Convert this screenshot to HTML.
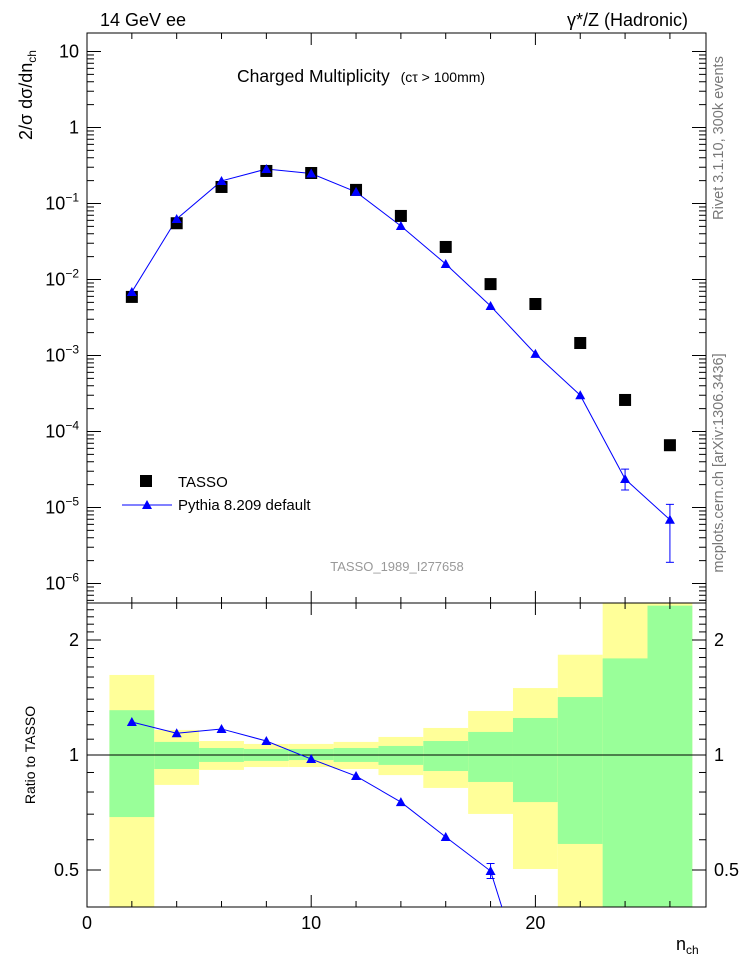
<!DOCTYPE html>
<html><head><meta charset="utf-8"><style>
html,body{margin:0;background:#fff;overflow:hidden;width:746px;height:972px;}
svg{display:block;font-family:"Liberation Sans",sans-serif;}
</style></head><body>
<svg id="chart" width="746" height="972" xmlns="http://www.w3.org/2000/svg">
<g id="bands"></g>
<g id="grid"></g>
<g id="marks"></g>
<text x="100" y="26" font-size="18">14 GeV ee</text>
<text x="688" y="26" font-size="18" text-anchor="end">γ*/Z (Hadronic)</text>
<text x="237" y="82" font-size="17.5">Charged Multiplicity <tspan font-size="14" dx="6">(cτ &gt; 100mm)</tspan></text>
<text transform="translate(723,138) rotate(-90)" font-size="14.5" fill="#777" text-anchor="middle">Rivet 3.1.10,  300k events</text>
<text transform="translate(723,463) rotate(-90)" font-size="14.5" fill="#777" text-anchor="middle">mcplots.cern.ch [arXiv:1306.3436]</text>
<text x="397" y="571" font-size="13" fill="#999" text-anchor="middle">TASSO_1989_I277658</text>
<text transform="translate(32,95) rotate(-90)" font-size="18" text-anchor="middle">2/σ dσ/dn<tspan font-size="12" dy="4">ch</tspan></text>
<text transform="translate(35,755) rotate(-90)" font-size="14" text-anchor="middle">Ratio to TASSO</text>
<text x="676" y="950" font-size="18">n<tspan font-size="12" dy="4">ch</tspan></text>
<g>
<rect x="140" y="475" width="12" height="12" fill="#000"/>
<text x="178" y="487" font-size="15">TASSO</text>
<line x1="122" y1="505" x2="172" y2="505" stroke="#00f" stroke-width="1"/>
<polygon points="147,500 142,509 152,509" fill="#00f"/>
<text x="178" y="510" font-size="15">Pythia 8.209 default</text>
</g>
</svg>
<script>
const nch = [2,4,6,8,10,12,14,16,18,20,22,24,26];
const tasso = [0.0059,0.055,0.165,0.268,0.252,0.151,0.0686,0.0268,0.0087,0.00476,0.00146,0.00026,0.000066];
const pythia = [0.00686,0.0625,0.198,0.284,0.248,0.142,0.0506,0.016,0.00448,0.00105,0.0003,0.0000237,0.0000069];
const pythiaHi = [0.007,0.063,0.2,0.286,0.25,0.143,0.051,0.0162,0.0046,0.00108,0.00031,0.000032,0.000011];
const pythiaLo = [0.0067,0.062,0.196,0.282,0.246,0.141,0.0502,0.0158,0.0044,0.00102,0.00029,0.000017,0.0000019];
const yellowHi = [1.62,1.163,1.088,1.069,1.069,1.082,1.115,1.177,1.304,1.497,1.83,3,3];
const greenHi = [1.31,1.082,1.043,1.037,1.037,1.043,1.056,1.088,1.149,1.25,1.418,1.79,2.46];
const greenLo = [0.688,0.919,0.959,0.965,0.97,0.959,0.942,0.908,0.85,0.753,0.585,0.3,0.3];
const yellowLo = [0.3,0.835,0.914,0.93,0.93,0.919,0.886,0.82,0.701,0.503,0.3,0.3,0.3];
const ratioMC = [1.22,1.14,1.17,1.088,0.976,0.881,0.753,0.61,0.497,0.21,0.2,0.09,0.1];
const ratioHi = [1.23,1.15,1.18,1.095,0.982,0.887,0.76,0.62,0.52,0.22,0.21,0.12,0.16];
const ratioLo = [1.21,1.13,1.16,1.081,0.97,0.875,0.746,0.6,0.475,0.2,0.19,0.06,0.03];
const xTicks = [0,10,20];
const yTicks = [-6,-5,-4,-3,-2,-1,0,1];
const rTicks = [0.5,1,2];

const NS="http://www.w3.org/2000/svg";
const L=87,R=706,T=33,B=603,RT=603,RB=907;
const X=v=>L+v*22.42;
const Y=v=>51.5-(Math.log10(v)-1)*76;
const RY=v=>755-Math.log2(v)*115;
function mk(p,tag,a){const e=document.createElementNS(NS,tag);for(const k in a)e.setAttribute(k,a[k]);p.appendChild(e);return e;}
const bands=document.getElementById('bands'),grid=document.getElementById('grid'),marks=document.getElementById('marks');
const clampR=v=>Math.min(RB,Math.max(RT,RY(v)));
nch.forEach((n,i)=>{
  let y1=clampR(yellowHi[i]),y2=clampR(yellowLo[i]);
  const yb=mk(bands,'rect',{x:X(n-1),y:y1,width:X(n+1)-X(n-1),height:y2-y1,fill:'#ffff99'});
  
  
  let g1=clampR(greenHi[i]),g2=clampR(greenLo[i]);
  const gb=mk(bands,'rect',{x:X(n-1),y:g1,width:X(n+1)-X(n-1),height:g2-g1,fill:'#99ff99'});
  
  
});
mk(grid,'rect',{x:L,y:T,width:R-L,height:B-T,fill:'none',stroke:'#000','stroke-width':1});
mk(grid,'rect',{x:L,y:RT,width:R-L,height:RB-RT,fill:'none',stroke:'#000','stroke-width':1});
mk(grid,'line',{x1:L,x2:R,y1:RY(1),y2:RY(1),stroke:'#000','stroke-width':1});
for(let v=0;v<=27;v+=2){
  const isMaj=v%10===0, len=isMaj?12:6;
  [[T,1],[B,-1],[RT,1],[RB,-1]].forEach(([y,d])=>mk(grid,'line',{x1:X(v),x2:X(v),y1:y,y2:y+d*len,stroke:'#000'}));
}
xTicks.forEach(v=>{const t=mk(grid,'text',{x:X(v),y:929,'font-size':18,'text-anchor':'middle'});t.textContent=v;

});
for(let d=-7;d<=1;d++){for(let m=1;m<10;m++){const v=m*Math.pow(10,d);const y=Y(v);if(y<T||y>B)continue;
 const len=m===1?14:7;
 mk(grid,'line',{x1:L,x2:L+len,y1:y,y2:y,stroke:'#000'});mk(grid,'line',{x1:R,x2:R-len,y1:y,y2:y,stroke:'#000'});}}
yTicks.forEach(d=>{const y=Y(Math.pow(10,d));const t=mk(grid,'text',{x:79,y:y+6,'font-size':18,'text-anchor':'end'});
 if(d===0)t.textContent='1';else if(d===1)t.textContent='10';else{t.textContent='10';const s=mk(t,'tspan',{dy:-8,'font-size':12});s.textContent=String(d).replace('-','−');}
 
 });
for(let v=0.4;v<=2.5;v+=0.1){const y=RY(v);if(y<RT||y>RB)continue;const maj=Math.abs(v-0.5)<1e-6||Math.abs(v-1)<1e-6||Math.abs(v-2)<1e-6;const len=maj?14:7;
 mk(grid,'line',{x1:L,x2:L+len,y1:y,y2:y,stroke:'#000'});mk(grid,'line',{x1:R,x2:R-len,y1:y,y2:y,stroke:'#000'});}
rTicks.forEach(v=>{[[79,'end'],[714,'start']].forEach(([x,a])=>{const t=mk(grid,'text',{x:x,y:RY(v)+6,'font-size':18,'text-anchor':a});t.textContent=v;
 
 });});
mk(marks,'polyline',{points:nch.map((n,i)=>X(n)+','+Y(pythia[i])).join(' '),fill:'none',stroke:'#00f','stroke-width':1});
nch.forEach((n,i)=>{
  const s=mk(marks,'rect',{x:X(n)-6,y:Y(tasso[i])-6,width:12,height:12,fill:'#000'});
  
  
  mk(marks,'line',{x1:X(n),x2:X(n),y1:Y(pythiaHi[i]),y2:Y(pythiaLo[i]),stroke:'#00f'});
  if(Y(pythiaLo[i])-Y(pythiaHi[i])>8){[pythiaHi[i],pythiaLo[i]].forEach(v=>mk(marks,'line',{x1:X(n)-4,x2:X(n)+4,y1:Y(v),y2:Y(v),stroke:'#00f'}));}
  const x=X(n),y=Y(pythia[i]);
  const p=mk(marks,'polygon',{points:`${x},${y-5} ${x-5},${y+4} ${x+5},${y+4}`,fill:'#00f'});
  
  
});
const clip=mk(document.getElementById('chart'),'clipPath',{id:'rc'});mk(clip,'rect',{x:L,y:RT,width:R-L,height:RB-RT});
const rg=mk(marks,'g',{'clip-path':'url(#rc)'});
mk(rg,'polyline',{points:nch.map((n,i)=>X(n)+','+RY(ratioMC[i])).join(' '),fill:'none',stroke:'#00f','stroke-width':1});
nch.forEach((n,i)=>{const x=X(n),y=RY(ratioMC[i]);if(y>RB)return;
  mk(rg,'line',{x1:x,x2:x,y1:RY(ratioHi[i]),y2:RY(ratioLo[i]),stroke:'#00f'});
  if(RY(ratioLo[i])-RY(ratioHi[i])>8){[ratioHi[i],ratioLo[i]].forEach(v=>mk(rg,'line',{x1:x-4,x2:x+4,y1:RY(v),y2:RY(v),stroke:'#00f'}));}
  const p=mk(rg,'polygon',{points:`${x},${y-5} ${x-5},${y+4} ${x+5},${y+4}`,fill:'#00f'});
  
  
});
</script>
</body></html>
